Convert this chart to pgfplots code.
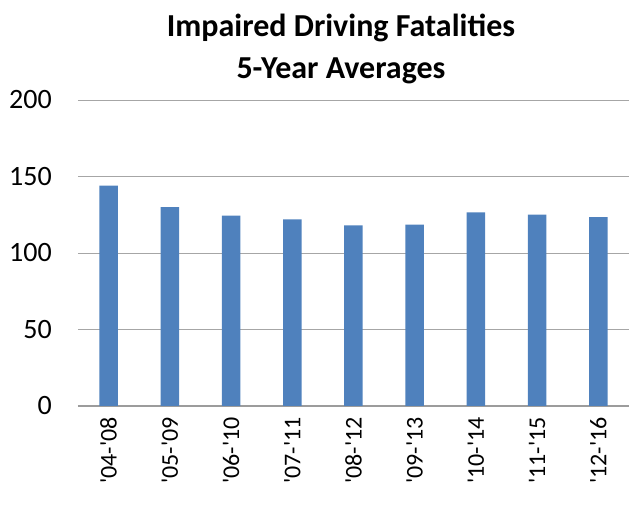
\documentclass[border=0pt]{standalone}
\usepackage{fontspec}
\setmainfont{Carlito}
\usepackage{pgfplots}
\pgfplotsset{compat=1.18}
\definecolor{barblue}{HTML}{4F81BD}
\definecolor{gridgray}{HTML}{A6A6A6}
\definecolor{axisgray}{HTML}{9C9C9C}
\newcommand{\q}{\textquotesingle}

\begin{document}
\begin{tikzpicture}
% fixed page: 629 x 508, axis box lower left at (0,0)
\useasboundingbox (-78pt,-102pt) rectangle (551pt,406pt);
\begin{axis}[
    scale only axis,
    width=551pt, height=306pt,
    xmin=-0.5, xmax=8.5,
    ymin=0, ymax=200,
    ytick={0,50,100,150,200},
    xtick=data,
    xticklabels={\q04-\q08,\q05-\q09,\q06-\q10,\q07-\q11,\q08-\q12,\q09-\q13,\q10-\q14,\q11-\q15,\q12-\q16},
    axis x line*=bottom,
    axis y line*=left,
    y axis line style={draw=none},
    x axis line style={axisgray, line width=1.6pt, -},
    ymajorgrids=true,
    grid style={gridgray, line width=0.9pt},
    major tick length=0pt,
    /pgf/number format/assume math mode=true,
    ytick style={draw=none},
    xtick style={draw=none},
    every y tick label/.append style={font=\fontsize{28}{32}\selectfont, anchor=east, inner sep=0pt, xshift=-26pt},
    every x tick label/.append style={font=\fontsize{24}{28}\selectfont, rotate=90, anchor=east, inner sep=0pt, xshift=-11pt},
    clip=false,
]
\addplot[ybar, bar width=18.5pt, fill=barblue, draw=none] coordinates {
    (0,144) (1,130) (2,124.5) (3,122) (4,118) (5,118.5) (6,126.5) (7,125) (8,123.5)
};
\end{axis}
\node[anchor=base, font=\fontsize{32}{36}\selectfont\bfseries] at (263pt,369pt) {Impaired Driving Fatalities};
\node[anchor=base, font=\fontsize{32}{36}\selectfont\bfseries] at (263pt,327pt) {5-Year Averages};
\end{tikzpicture}
\end{document}
